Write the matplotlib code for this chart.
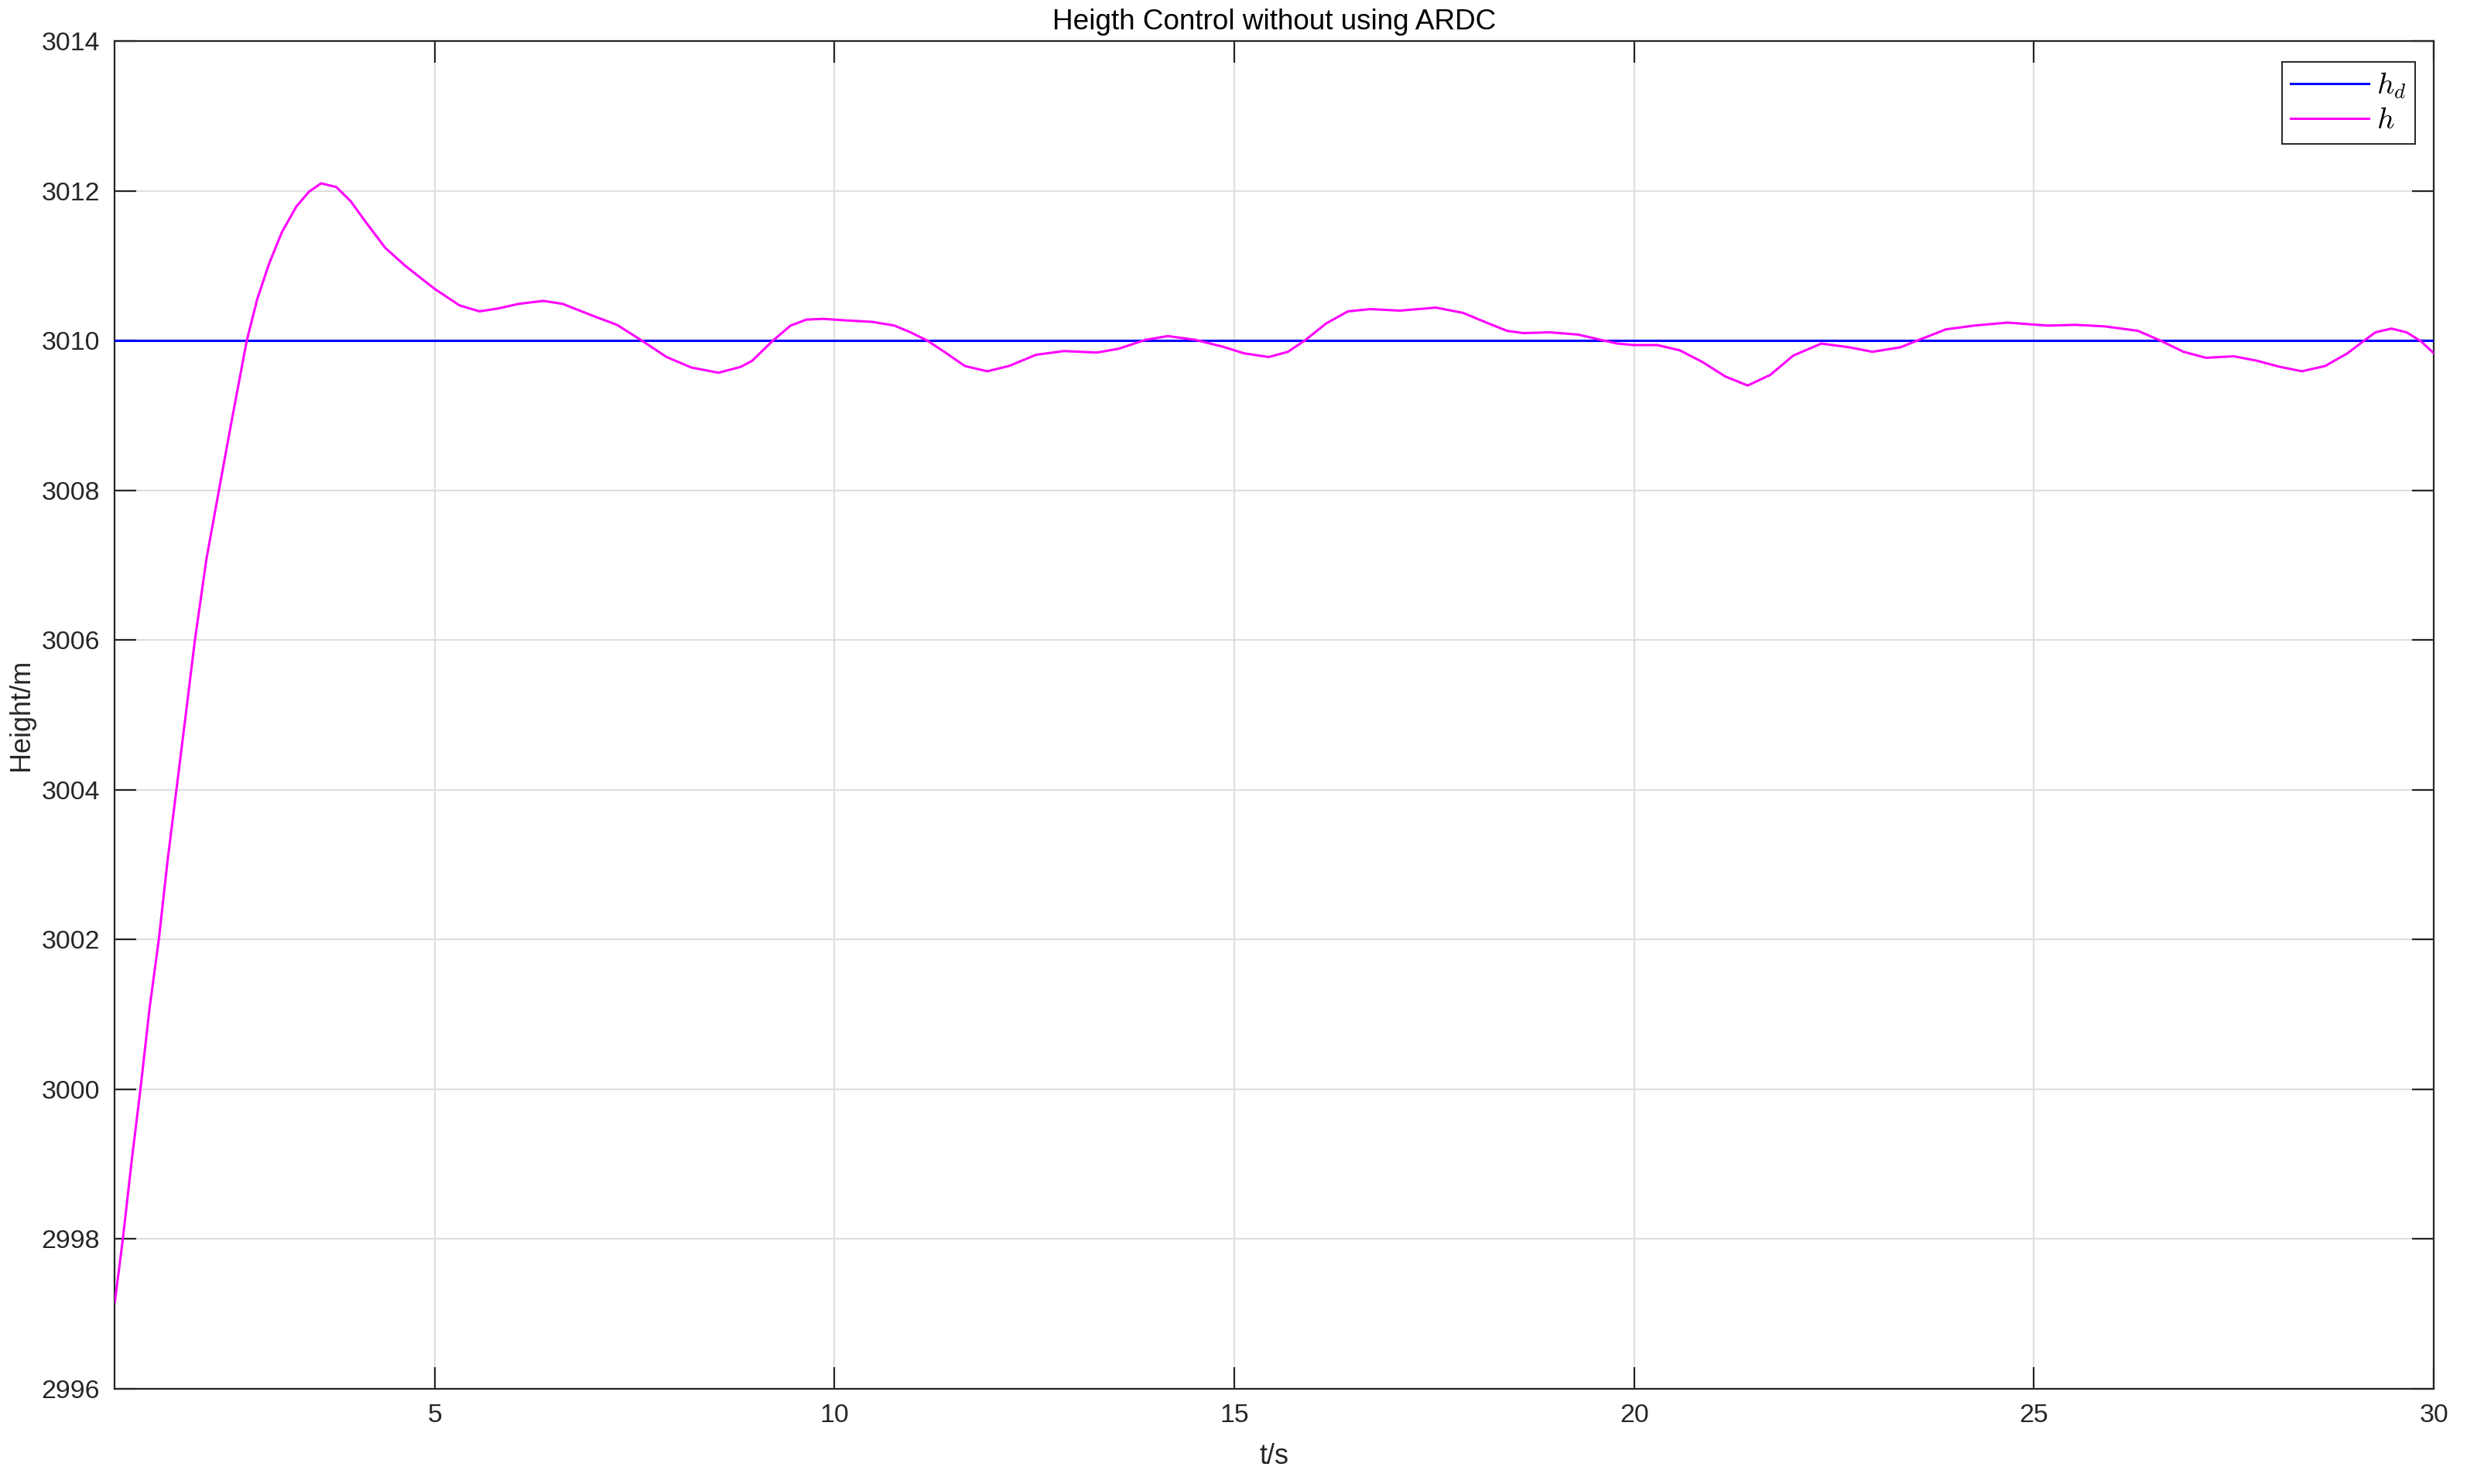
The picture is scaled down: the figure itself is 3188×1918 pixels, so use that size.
import matplotlib
matplotlib.use("Agg")
import matplotlib.pyplot as plt

# ---- data ----
t = [1.00, 1.10, 1.21, 1.32, 1.435, 1.55, 1.66, 1.77, 1.89, 2.00, 2.145, 2.30,
     2.43, 2.53, 2.65, 2.78, 2.93, 3.09, 3.27, 3.43, 3.58, 3.77, 3.95, 4.14,
     4.38, 4.63, 5.00, 5.31, 5.56, 5.80, 6.05, 6.36, 6.60, 6.98, 7.28, 7.59,
     7.90, 8.21, 8.55, 8.83, 8.97, 9.23, 9.45, 9.65, 9.86, 10.13, 10.47, 10.75,
     10.95, 11.16, 11.40, 11.63, 11.91, 12.18, 12.52, 12.87, 13.28, 13.55,
     13.89, 14.17, 14.51, 14.85, 15.12, 15.43, 15.67, 15.88, 16.15, 16.42,
     16.70, 17.07, 17.52, 17.86, 18.13, 18.41, 18.61, 18.95, 19.30, 19.58,
     19.79, 20.00, 20.29, 20.57, 20.86, 21.14, 21.42, 21.70, 21.99, 22.34,
     22.69, 22.98, 23.33, 23.54, 23.90, 24.25, 24.67, 25.17, 25.52, 25.88,
     26.30, 26.58, 26.87, 27.15, 27.50, 27.79, 28.07, 28.35, 28.64, 28.92,
     29.13, 29.27, 29.47, 29.66, 29.84, 30.00]
h = [2997.16, 2998.00, 2999.04, 3000.00, 3001.09, 3002.00, 3003.06, 3004.00,
     3005.03, 3005.99, 3007.08, 3007.99, 3008.75, 3009.32, 3010.00, 3010.55,
     3011.03, 3011.45, 3011.79, 3011.99, 3012.10, 3012.05, 3011.86, 3011.58,
     3011.24, 3011.00, 3010.69, 3010.47, 3010.39, 3010.43, 3010.49, 3010.53,
     3010.49, 3010.33, 3010.21, 3010.00, 3009.78, 3009.64, 3009.57, 3009.65,
     3009.73, 3010.00, 3010.20, 3010.28, 3010.29, 3010.27, 3010.25, 3010.20,
     3010.11, 3010.00, 3009.83, 3009.66, 3009.59, 3009.66, 3009.81, 3009.86,
     3009.84, 3009.89, 3010.01, 3010.06, 3010.01, 3009.92, 3009.83, 3009.78,
     3009.85, 3010.00, 3010.23, 3010.39, 3010.42, 3010.40, 3010.44, 3010.37,
     3010.25, 3010.13, 3010.10, 3010.11, 3010.08, 3010.01, 3009.96, 3009.94,
     3009.94, 3009.87, 3009.71, 3009.52, 3009.40, 3009.54, 3009.80, 3009.96,
     3009.91, 3009.85, 3009.91, 3010.00, 3010.15, 3010.20, 3010.24, 3010.20,
     3010.21, 3010.19, 3010.13, 3010.00, 3009.85, 3009.77, 3009.79, 3009.73,
     3009.65, 3009.59, 3009.66, 3009.83, 3010.00, 3010.11, 3010.16, 3010.11,
     3009.99, 3009.83]
h_desired = 3010.0
x_range = [1, 30]
x_ticks = [5, 10, 15, 20, 25, 30]
y_ticks = [2996, 2998, 3000, 3002, 3004, 3006, 3008, 3010, 3012, 3014]
title = "Heigth Control without using ARDC"
x_label = "t/s"
y_label = "Height/m"
legend_labels = [r"$h_d$", r"$h$"]

# ---- styling ----
plt.rcParams["font.family"] = ["Liberation Sans", "DejaVu Sans"]
plt.rcParams["mathtext.fontset"] = "cm"
axis_color = "#262626"

fig = plt.figure(figsize=(15.94, 9.59), dpi=200)
ax = fig.add_axes([0.04655, 0.06413, 0.9400, 0.9082])

ax.plot(x_range, [h_desired, h_desired], color="#0000FF", lw=1.1,
        label=legend_labels[0], zorder=3)
ax.plot(t, h, color="#FF00FF", lw=1.1, label=legend_labels[1], zorder=3,
        solid_joinstyle="round", antialiased=True)

ax.set_xlim(x_range)
ax.set_ylim(y_ticks[0], y_ticks[-1])
ax.set_xticks(x_ticks)
ax.set_yticks(y_ticks)
ax.grid(True, color="#DFDFDF", lw=0.8, zorder=0)
ax.set_axisbelow(True)

for s in ax.spines.values():
    s.set_color(axis_color)
    s.set_linewidth(0.8)
ax.tick_params(direction="in", length=10, width=0.8, colors=axis_color,
               labelsize=12.2, pad=7, top=True, right=True)
for lab in ax.get_xticklabels() + ax.get_yticklabels():
    lab.set_color(axis_color)

ax.set_title(title, fontsize=13.3, color="black", pad=5.5)
ax.set_xlabel(x_label, fontsize=13, color=axis_color)
ax.set_ylabel(y_label, fontsize=13, color=axis_color)
ax.xaxis.set_label_coords(0.5, -0.040)
ax.yaxis.set_label_coords(-0.0345, 0.5)

leg = ax.legend(loc="upper right", bbox_to_anchor=(0.992, 0.9845),
                borderaxespad=0, fancybox=False, framealpha=1,
                edgecolor=axis_color, fontsize=14, handlelength=2.6,
                handletextpad=0.25, borderpad=0.3, labelspacing=0.2)
leg.get_frame().set_linewidth(0.7)

fig.savefig("out.png", dpi=200)
